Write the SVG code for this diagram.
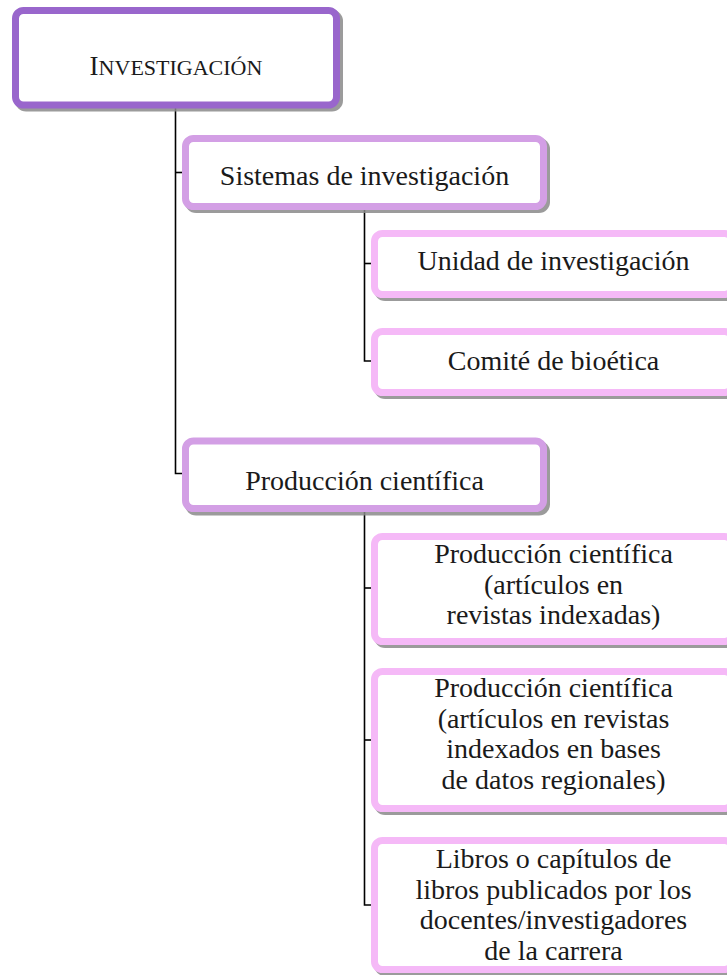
<svg xmlns="http://www.w3.org/2000/svg" width="727" height="975" viewBox="0 0 727 975">
<style>
.sh{fill:#8a8a8a;opacity:0.85}
.box{fill:#ffffff;stroke-width:7}
.l1{stroke:#9966cc}
.l2{stroke:#d39fe5}
.l3{stroke:#f5b9f7}
.t{font-family:'Liberation Serif','DejaVu Serif',serif;font-size:28px;fill:#1a1a1a;text-anchor:middle}
.c{fill:none;stroke:#000000;stroke-width:1.6}
</style>
<rect width="727" height="975" fill="#ffffff"/>
<g id="connectors">
<path class="c" d="M175.5 108 V473.5 H182"/>
<path class="c" d="M175.5 172.5 H182"/>
<path class="c" d="M364.5 210 V361 H371"/>
<path class="c" d="M364.5 263.5 H371"/>
<path class="c" d="M364.5 512 V905 H371"/>
<path class="c" d="M364.5 588 H371"/>
<path class="c" d="M364.5 740 H371"/>
</g>
<g id="n-investigacion">
<rect class="sh" x="15" y="10" width="328" height="101.5" rx="11"/>
<rect class="box l1" x="15.5" y="10.5" width="321" height="94.5" rx="8"/>
<text class="t" x="176" y="75"><tspan font-size="27">I</tspan><tspan font-size="22">NVESTIGACIÓN</tspan></text>
</g>
<g id="n-sistemas">
<rect class="sh" x="185" y="138" width="365" height="75" rx="11"/>
<rect class="box l2" x="185.5" y="138.5" width="358" height="68" rx="8"/>
<text class="t" x="364.5" y="185">Sistemas de investigación</text>
</g>
<g id="n-unidad">
<rect class="sh" x="374" y="233" width="365" height="68" rx="11"/>
<rect class="box l3" x="374.5" y="233.5" width="358" height="61" rx="8"/>
<text class="t" x="553.5" y="270">Unidad de investigación</text>
</g>
<g id="n-comite">
<rect class="sh" x="374" y="331" width="365" height="68" rx="11"/>
<rect class="box l3" x="374.5" y="331.5" width="358" height="61" rx="8"/>
<text class="t" x="553.5" y="370">Comité de bioética</text>
</g>
<g id="n-produccion">
<rect class="sh" x="185" y="441" width="365" height="74.5" rx="11"/>
<rect class="box l2" x="185.5" y="441" width="358" height="67.5" rx="8"/>
<text class="t" x="364.5" y="490">Producción científica</text>
</g>
<g id="n-articulos">
<rect class="sh" x="374" y="536" width="365" height="112" rx="11"/>
<rect class="box l3" x="374.5" y="536.5" width="358" height="105" rx="8"/>
<text class="t" x="553.5" y="563">Producción científica</text>
<text class="t" x="553.5" y="593.5">(artículos en</text>
<text class="t" x="553.5" y="624">revistas indexadas)</text>
</g>
<g id="n-regionales">
<rect class="sh" x="374" y="671" width="365" height="144" rx="11"/>
<rect class="box l3" x="374.5" y="671.5" width="358" height="137" rx="8"/>
<text class="t" x="553.5" y="697">Producción científica</text>
<text class="t" x="553.5" y="727.5">(artículos en revistas</text>
<text class="t" x="553.5" y="758">indexados en bases</text>
<text class="t" x="553.5" y="788.5">de datos regionales)</text>
</g>
<g id="n-libros">
<rect class="sh" x="374" y="840" width="365" height="136" rx="11"/>
<rect class="box l3" x="374.5" y="840.5" width="358" height="129" rx="8"/>
<text class="t" x="553.5" y="868">Libros o capítulos de</text>
<text class="t" x="553.5" y="898.5">libros publicados por los</text>
<text class="t" x="553.5" y="929">docentes/investigadores</text>
<text class="t" x="553.5" y="959.5">de la carrera</text>
</g>
</svg>
